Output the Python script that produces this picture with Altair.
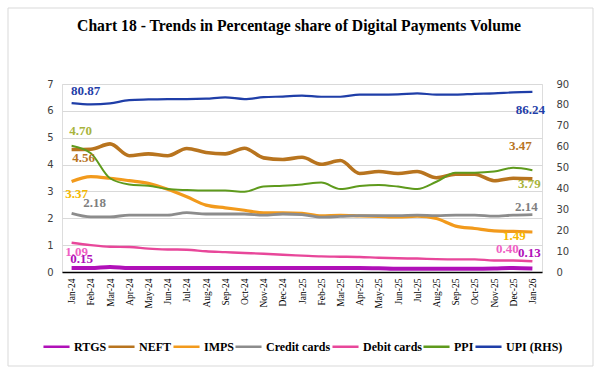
import altair as alt
import pandas as pd

months = ["Jan-24", "Feb-24", "Mar-24", "Apr-24", "May-24", "Jun-24", "Jul-24", "Aug-24",
          "Sep-24", "Oct-24", "Nov-24", "Dec-24", "Jan-25", "Feb-25", "Mar-25", "Apr-25",
          "May-25", "Jun-25", "Jul-25", "Aug-25", "Sep-25", "Oct-25", "Nov-25", "Dec-25", "Jan-26"]

rtgs = [0.15, 0.15, 0.19, 0.15, 0.15, 0.15, 0.15, 0.15, 0.15, 0.15, 0.15, 0.15, 0.15,
        0.15, 0.15, 0.15, 0.14, 0.12, 0.12, 0.12, 0.12, 0.12, 0.13, 0.15, 0.13]
neft = [4.56, 4.57, 4.77, 4.33, 4.40, 4.33, 4.60, 4.45, 4.40, 4.61, 4.25, 4.19, 4.27,
        4.01, 4.15, 3.67, 3.74, 3.67, 3.74, 3.51, 3.64, 3.64, 3.40, 3.49, 3.47]
imps = [3.37, 3.55, 3.49, 3.40, 3.30, 3.08, 2.80, 2.49, 2.39, 2.30, 2.20, 2.20, 2.18,
        2.09, 2.11, 2.09, 2.07, 2.05, 2.08, 1.99, 1.71, 1.62, 1.53, 1.51, 1.49]
credit_cards = [2.18, 2.05, 2.05, 2.12, 2.12, 2.12, 2.21, 2.16, 2.16, 2.16, 2.12, 2.16, 2.14,
                2.04, 2.07, 2.10, 2.10, 2.10, 2.12, 2.10, 2.12, 2.12, 2.08, 2.12, 2.14]
debit_cards = [1.09, 1.00, 0.94, 0.93, 0.87, 0.84, 0.83, 0.77, 0.74, 0.71, 0.68, 0.64, 0.61,
               0.58, 0.57, 0.56, 0.53, 0.51, 0.50, 0.48, 0.47, 0.47, 0.43, 0.43, 0.40]
ppi = [4.70, 4.42, 3.49, 3.26, 3.21, 3.09, 3.05, 3.03, 3.03, 2.99, 3.18, 3.21, 3.26,
       3.33, 3.09, 3.20, 3.24, 3.18, 3.09, 3.36, 3.70, 3.70, 3.74, 3.88, 3.79]
upi = [80.87, 80.2, 80.7, 82.3, 82.6, 82.8, 82.8, 83.0, 83.6, 82.8, 83.7, 84.0, 84.4,
       83.9, 83.9, 84.9, 84.9, 85.0, 85.5, 84.9, 84.9, 85.3, 85.5, 86.0, 86.24]

series_names = ["RTGS", "NEFT", "IMPS", "Credit cards", "Debit cards", "PPI", "UPI (RHS)"]
series_colors = ["#B010B8", "#B8741E", "#F29A1C", "#8C8C8C", "#E8479A", "#5E9A1C", "#1F3EA8"]
label_colors = {"RTGS": "#B010B8", "NEFT": "#B8741E", "IMPS": "#F5B800", "Credit cards": "#7F7F7F",
                "Debit cards": "#F060C4", "PPI": "#A8B43C", "UPI (RHS)": "#1F3EA8"}

left_series = {"RTGS": rtgs, "NEFT": neft, "IMPS": imps, "Credit cards": credit_cards,
               "Debit cards": debit_cards, "PPI": ppi}

rows = []
for name, vals in left_series.items():
    for m, v in zip(months, vals):
        rows.append({"month": m, "series": name, "value": v})
left_df = pd.DataFrame(rows)
upi_df = pd.DataFrame({"month": months, "series": "UPI (RHS)", "value": upi})

# data labels: (series, month index, dx, dy)
label_specs = [
    ("UPI (RHS)", 0, 14, -12), ("UPI (RHS)", 24, -2, 18),
    ("PPI", 0, 9, -15), ("NEFT", 0, 12, 8), ("IMPS", 0, 5, 13), ("Credit cards", 0, 23, -10),
    ("Debit cards", 0, 5, 9), ("RTGS", 0, 10, -9),
    ("NEFT", 24, -12, -33), ("PPI", 24, -3, 14), ("Credit cards", 24, -6, -8),
    ("IMPS", 24, -18, 4), ("Debit cards", 24, -25, -12), ("RTGS", 24, -3, -16),
]

x_enc = alt.X("month:N", sort=months, scale=alt.Scale(padding=0.5),
              axis=alt.Axis(title=None, labelAngle=270, labelFont="Liberation Serif", labelFontSize=9.5,
                            labelColor="#000000", ticks=False, domainColor="#000000", domainWidth=1.5,
                            labelPadding=6, grid=False))
color_enc = alt.Color("series:N", scale=alt.Scale(domain=series_names, range=series_colors),
                      legend=alt.Legend(title=None, orient="none", legendX=-20, legendY=248,
                                        direction="horizontal", symbolType="stroke",
                                        symbolSize=680, symbolStrokeWidth=2.5,
                                        labelFont="Liberation Serif", labelFontWeight="bold",
                                        labelFontSize=12, labelColor="#000000", columnPadding=-4,
                                        symbolOffset=0, labelOffset=3))

y_left = alt.Y("value:Q", scale=alt.Scale(domain=[0, 7], nice=False),
               axis=alt.Axis(title=None, values=list(range(8)), labelFont="DejaVu Sans", labelFontSize=10,
                             labelColor="#404040", domain=False, ticks=False, gridColor="#D9D9D9",
                             labelPadding=9, labelOverlap=False))
y_right = alt.Y("value:Q", scale=alt.Scale(domain=[0, 90], nice=False),
                axis=alt.Axis(title=None, orient="right", values=list(range(0, 91, 10)),
                              labelFont="DejaVu Sans", labelFontSize=10, labelColor="#404040",
                              domain=False, ticks=False, grid=False, labelPadding=14, labelOverlap=False))

left_lines = alt.Chart(left_df).mark_line(interpolate="monotone").encode(
    x=x_enc, y=y_left, color=color_enc,
    strokeWidth=alt.StrokeWidth("series:N", scale=alt.Scale(domain=series_names[:6], range=[4, 2, 2, 2, 2, 2.2]),
                                legend=None))

left_texts = []
right_texts = []
for name, idx, dx, dy in label_specs:
    if name == "UPI (RHS)":
        d = pd.DataFrame({"month": [months[idx]], "value": [upi[idx]]})
        yy = y_right
    else:
        d = pd.DataFrame({"month": [months[idx]], "value": [left_series[name][idx]]})
        yy = y_left
    t = alt.Chart(d).mark_text(dx=dx, dy=dy, font="Liberation Serif", fontWeight="bold", fontSize=13,
                               color=label_colors[name]).encode(
        x=x_enc, y=yy, text=alt.Text("value:Q", format=".2f"))
    if name == "UPI (RHS)":
        right_texts.append(t)
    else:
        left_texts.append(t)

left = alt.layer(left_lines, *left_texts)

upi_line = alt.Chart(upi_df).mark_line(interpolate="monotone", strokeWidth=2.2).encode(
    x=x_enc, y=y_right, color=color_enc)
right = alt.layer(upi_line, *right_texts)

border = alt.Chart(pd.DataFrame({"a": [0]})).mark_rect(fill=None, stroke="#D9D9D9", strokeWidth=1).encode(
    x=alt.value(-54), x2=alt.value(531), y=alt.value(-76), y2=alt.value(282))

chart = alt.layer(left, right, border).resolve_scale(y="independent").properties(
    width=480, height=188,
    title=alt.TitleParams("Chart 18 - Trends in Percentage share of Digital Payments Volume",
                          font="Liberation Serif", fontSize=15.7, fontWeight="bold", color="#000000",
                          anchor="middle", offset=-27, dx=-3),
    autosize=alt.AutoSizeParams(type="none"),
    padding={"left": 62, "top": 84, "right": 56, "bottom": 105},
).configure_view(stroke=None).configure(background="#FFFFFF")

chart.save("out.html", embed_options={"renderer": "svg", "actions": False})
